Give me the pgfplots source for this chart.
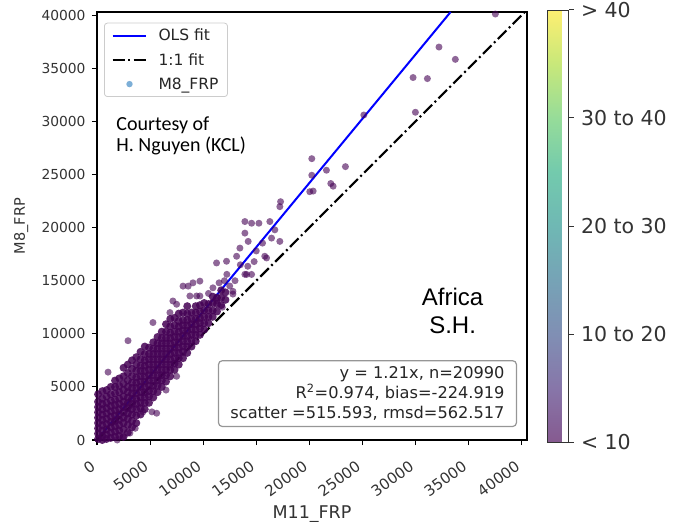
\documentclass[border=0pt]{standalone}
\usepackage{pgfplots}
\usepackage{pgfplotstable}
\pgfplotsset{compat=1.18}
\usepackage{fontspec}
\setmainfont{DejaVu Sans}
\newfontfamily\carlito{Carlito}
\newfontfamily\libsans{Liberation Sans}
\definecolor{ptpurple}{RGB}{68,1,84}
\definecolor{legblue}{RGB}{125,175,215}
\definecolor{boxgray}{RGB}{150,150,150}
\pgfplotsset{colormap={fadedviridis}{rgb255=(134,90,144) rgb255=(135,118,169) rgb255=(128,143,180) rgb255=(118,163,182) rgb255=(111,184,180) rgb255=(115,202,173) rgb255=(150,220,153) rgb255=(200,232,122) rgb255=(254,239,113)}}

% dense core of the cloud
\pgfplotstableread{
x y
100 100
100 600
100 1100
100 1600
100 2100
100 2600
100 3100
100 3600
100 4300
500 0
500 400
500 900
500 1400
500 1900
500 2400
500 2900
500 3400
500 3900
500 4600
900 100
900 500
900 1000
900 1500
900 2000
900 2500
900 3000
900 3500
900 4100
900 4700
1300 200
1300 700
1300 1200
1300 1700
1300 2200
1300 2700
1300 3200
1300 3700
1300 4300
1300 5000
1700 300
1700 800
1700 1300
1700 1800
1700 2300
1700 2800
1700 3300
1700 3800
1700 4400
1700 5000
1700 5600
2100 400
2100 900
2100 1400
2100 1900
2100 2400
2100 2900
2100 3400
2100 3900
2100 4500
2100 5100
2100 5800
2500 300
2500 1000
2500 1600
2500 2100
2500 2600
2500 3100
2500 3600
2500 4100
2500 4700
2500 5300
2500 6000
2500 6800
2900 700
2900 1400
2900 2000
2900 2500
2900 3000
2900 3500
2900 4000
2900 4500
2900 5000
2900 5600
2900 6300
2900 7100
3300 1200
3300 1800
3300 2400
3300 2900
3300 3400
3300 3900
3300 4400
3300 4900
3300 5400
3300 6000
3300 6700
3300 7500
3700 1600
3700 2300
3700 2900
3700 3400
3700 3900
3700 4400
3700 4900
3700 5400
3700 5900
3700 6500
3700 7100
3700 7800
4100 2400
4100 3000
4100 3500
4100 4000
4100 4500
4100 5000
4100 5500
4100 6000
4100 6500
4100 7000
4100 7600
4100 8300
4500 2900
4500 3500
4500 4000
4500 4500
4500 5000
4500 5500
4500 6000
4500 6500
4500 7000
4500 7500
4500 8100
4500 8800
4900 3500
4900 4100
4900 4600
4900 5100
4900 5600
4900 6100
4900 6600
4900 7100
4900 7600
4900 8100
4900 8700
5300 4000
5300 4600
5300 5100
5300 5600
5300 6100
5300 6600
5300 7100
5300 7600
5300 8100
5300 8600
5300 9200
5700 4500
5700 5100
5700 5600
5700 6100
5700 6600
5700 7100
5700 7600
5700 8100
5700 8600
5700 9100
5700 9700
6100 5000
6100 5600
6100 6100
6100 6600
6100 7100
6100 7600
6100 8100
6100 8600
6100 9100
6100 9600
6100 10200
6500 5500
6500 6100
6500 6600
6500 7100
6500 7600
6500 8100
6500 8600
6500 9100
6500 9600
6500 10200
6500 10900
6900 6000
6900 6600
6900 7100
6900 7600
6900 8100
6900 8600
6900 9100
6900 9600
6900 10100
6900 10700
6900 11400
7300 6600
7300 7200
7300 7700
7300 8200
7300 8700
7300 9200
7300 9700
7300 10200
7300 10800
7300 11500
7700 7100
7700 7700
7700 8200
7700 8700
7700 9200
7700 9700
7700 10200
7700 10700
7700 11200
7700 11900
8100 7700
8100 8300
8100 8800
8100 9300
8100 9800
8100 10300
8100 10800
8100 11300
8100 12000
8500 8200
8500 8800
8500 9300
8500 9800
8500 10300
8500 10800
8500 11300
8500 11900
8500 12600
8900 8800
8900 9400
8900 9900
8900 10400
8900 10900
8900 11400
8900 12000
9300 9300
9300 9900
9300 10400
9300 10900
9300 11400
9300 12000
9300 12600
9700 9900
9700 10500
9700 11000
9700 11500
9700 12100
9700 12700
10100 10400
10100 11000
10100 11600
10100 12200
10100 12900
10500 11000
10500 11600
10500 12200
10500 12800
10900 11600
10900 12200
10900 12900
10900 13500
11300 12100
11300 12800
11300 13400
11700 12700
11700 13400
11700 14100
12100 13200
12100 13900
}\core

% sparser points and outliers
\pgfplotstableread{
x y
1040 6390
2920 9350
5270 11060
7150 13090
8100 14490
9040 14800
9690 13560
10920 14330
12230 15600
12800 13740
13930 15600
14200 16360
1900 0
2450 280
3100 650
3600 1100
4330 2650
5170 2650
5620 2520
6500 4700
7500 6000
6870 12000
7500 12780
8590 14490
8750 13560
9380 13560
9690 14960
11260 13090
11260 16670
12200 16830
13150 17300
14090 15590
14560 15590
15970 17140
15800 17300
13460 18070
14240 18700
15590 18540
16440 19010
17220 18700
16750 19790
13930 19480
13930 20570
14560 20410
15250 20410
16280 20570
17220 21970
17290 22440
11500 14800
12500 14500
13000 15000
13500 16500
12000 15000
14800 16800
15000 17800
10500 13800
11800 12500
12800 14000
20040 23380
20360 23440
22020 24150
22240 23900
20230 24930
21610 25400
23400 25740
20230 26490
25130 30600
29990 30860
29770 34130
31120 34030
32210 37000
33750 35840
37520 40110
}\sparse

\begin{document}
\begin{tikzpicture}
\path[use as bounding box] (-97bp,-82bp) rectangle (576bp,440bp);
\begin{axis}[
  at={(0bp,0bp)}, anchor=south west,
  scale only axis, width=430bp, height=428bp,
  xmin=0, xmax=40500, ymin=0, ymax=40300,
  xtick={0,5000,...,40000}, ytick={0,5000,...,40000},
  scaled ticks=false,
  /pgf/number format/.cd, 1000 sep={}, assume math mode=true, /pgfplots/.cd,
  xtick pos=bottom, ytick pos=left, tick align=outside,
  major tick length=5bp,
  every tick/.style={black, line width=1.1bp},
  axis line style={line width=1.3bp, black},
  ticklabel style={font=\fontsize{13.8bp}{16bp}\selectfont, text=black!80},
  xticklabel style={font=\fontsize{15bp}{17bp}\selectfont, xshift=-3bp, yshift=-19bp, rotate=36, anchor=east, inner sep=1bp},
  yticklabel style={xshift=-3bp},
  xlabel={M11\_FRP}, ylabel={M8\_FRP},
  xlabel style={font=\fontsize{17.5bp}{20bp}\selectfont, text=black!80, at={(axis description cs:0.5,0)}, anchor=base, yshift=-78bp},
  ylabel style={font=\fontsize{14.5bp}{16bp}\selectfont, text=black!80, at={(axis description cs:0,0.5)}, anchor=base, yshift=72bp},
  colormap name=fadedviridis,
  point meta min=0, point meta max=40,
  colorbar,
  colorbar style={
    at={(parent axis.north east)}, anchor=north west, xshift=12bp, yshift=2bp,
    scale only axis, width=21bp, height=432bp,
    ytick={0,10,20,30,40},
    yticklabels={\textless{} 10,10 to 20,20 to 30,30 to 40,\textgreater{} 40},
    yticklabel style={font=\fontsize{20.5bp}{23bp}\selectfont, text=black!80, xshift=4bp},
    ytick pos=right, tick align=outside, major tick length=5bp,
    every tick/.style={black!80, line width=1bp},
    axis line style={line width=0.8bp, black!80},
  },
  legend style={at={(axis description cs:0.0163,0.975)}, anchor=north west,
    draw=black!20, rounded corners=3bp, line width=0.8bp,
    font=\fontsize{15.5bp}{18bp}\selectfont, text=black!85,
    cells={anchor=west}, row sep=7bp, inner xsep=7bp, inner ysep=4bp},
]
\addlegendimage{legend image code/.code={\path[draw=none] (0bp,0bp) -- (44bp,0bp); \draw[blue, line width=2bp, solid] (0bp,0bp) -- (33bp,0bp);}}
\addlegendentry{OLS fit}
\addlegendimage{legend image code/.code={\path[draw=none] (0bp,0bp) -- (44bp,0bp); \draw[black, line width=2.2bp, dash pattern=on 12bp off 3.5bp on 2bp off 3.5bp] (0bp,0bp) -- (33bp,0bp);}}
\addlegendentry{1:1 fit}
\addlegendimage{legend image code/.code={\path[draw=none] (0bp,0bp) -- (44bp,0bp); \fill[legblue, draw=none] (17bp,0bp) circle (3.2bp);}}
\addlegendentry{M8\_FRP}

\addplot[only marks, mark=*, mark size=4bp, draw=none, mark options={draw=none, draw opacity=0, line width=0pt, fill=ptpurple, fill opacity=0.85}, forget plot] table[x=x, y=y] {\core};
\addplot[only marks, mark=*, mark size=3.5bp, draw=none, mark options={draw=none, draw opacity=0, line width=0pt, fill=ptpurple, fill opacity=0.6}, forget plot] table[x=x, y=y] {\sparse};
\addplot[blue, line width=2bp, forget plot] coordinates {(0,0) (33306,40300)};
\addplot[black, line width=2.2bp, dash pattern=on 12bp off 3.5bp on 2bp off 3.5bp, forget plot] coordinates {(0,0) (40500,40500)};

\node[anchor=base west, font=\carlito\fontsize{20bp}{22bp}\selectfont] at (axis description cs:0.037,0.722) {Courtesy of};
\node[anchor=base west, font=\carlito\fontsize{20bp}{22bp}\selectfont] at (axis description cs:0.037,0.675) {H. Nguyen (KCL)};
\node[anchor=base, font=\libsans\fontsize{24bp}{28bp}\selectfont] at (axis description cs:0.827,0.315) {Africa};
\node[anchor=base, font=\libsans\fontsize{24bp}{28bp}\selectfont] at (axis description cs:0.827,0.250) {S.H.};
\node[anchor=south east, draw=boxgray, rounded corners=4bp, line width=1.2bp, fill=white, fill opacity=0.8, text opacity=1, align=right, inner xsep=12bp, inner ysep=6bp, font=\fontsize{16.2bp}{20bp}\selectfont, text=black!85] at (axis description cs:0.977,0.030) {y = 1.21x, n=20990\\R\textsuperscript{2}=0.974, bias=-224.919\\scatter =515.593, rmsd=562.517};
\end{axis}
\end{tikzpicture}
\end{document}
